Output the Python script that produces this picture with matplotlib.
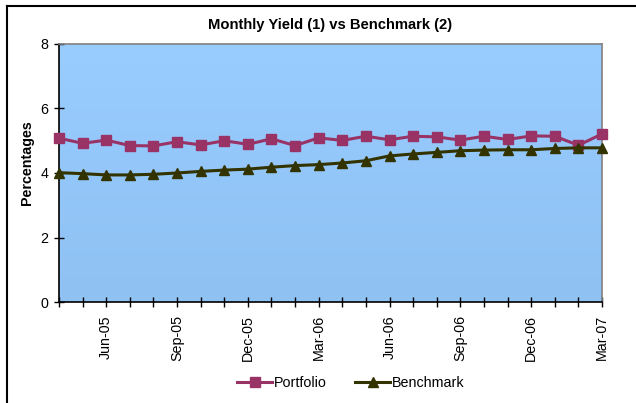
import numpy as np
import matplotlib
matplotlib.use("Agg")
import matplotlib.pyplot as plt
from matplotlib.lines import Line2D
from matplotlib.colors import LinearSegmentedColormap

plt.rcParams['font.family'] = ['Liberation Sans', 'DejaVu Sans']

months = ["Apr-05", "May-05", "Jun-05", "Jul-05", "Aug-05", "Sep-05", "Oct-05", "Nov-05",
          "Dec-05", "Jan-06", "Feb-06", "Mar-06", "Apr-06", "May-06", "Jun-06", "Jul-06",
          "Aug-06", "Sep-06", "Oct-06", "Nov-06", "Dec-06", "Jan-07", "Feb-07", "Mar-07"]
portfolio = [5.08, 4.92, 5.02, 4.85, 4.84, 4.97, 4.87, 5.00, 4.89, 5.06, 4.85, 5.09,
             5.01, 5.14, 5.03, 5.14, 5.12, 5.02, 5.14, 5.04, 5.15, 5.14, 4.86, 5.21]
benchmark = [4.01, 3.98, 3.94, 3.94, 3.96, 4.00, 4.05, 4.09, 4.12, 4.18, 4.23, 4.26,
             4.31, 4.38, 4.53, 4.59, 4.64, 4.69, 4.71, 4.72, 4.72, 4.76, 4.78, 4.78]
shown_labels = ["Jun-05", "Sep-05", "Dec-05", "Mar-06", "Jun-06", "Sep-06", "Dec-06", "Mar-07"]
y_ticks = [0, 2, 4, 6, 8]

W, H = 636, 403
fig = plt.figure(figsize=(W / 100, H / 100), dpi=100)
fig.patch.set_facecolor('white')
ax = fig.add_axes([59 / W, 1 - 302 / H, (602 - 59) / W, (302 - 44) / H])

x = np.arange(len(months))

# gradient background
cmap = LinearSegmentedColormap.from_list('bg', ['#8FC1F3', '#99CCFF'])
grad = np.linspace(0, 1, 256).reshape(-1, 1)
ax.imshow(grad, cmap=cmap, aspect='auto', origin='lower',
          extent=[0, 1, 0, 1], transform=ax.transAxes, zorder=0)

ax.plot(x, portfolio, color='#993366', lw=2.2, marker='s', markersize=6.5,
        label='Portfolio', zorder=3, clip_on=False)
ax.plot(x, benchmark, color='#333300', lw=2.2, marker='^', markersize=7.5,
        label='Benchmark', zorder=3, clip_on=False)

ax.set_xlim(0, len(months) - 1)
ax.set_ylim(0, 8)
ax.set_yticks(y_ticks)
ax.set_yticklabels([str(v) for v in y_ticks], fontsize=10.3)
ax.set_xticks(x)
ax.set_xticklabels([m if m in shown_labels else "" for m in months],
                   rotation=90, fontsize=10.3)
ax.tick_params(axis='both', direction='inout', length=7, width=1, color='black')
ax.tick_params(axis='x', pad=6)
ax.tick_params(axis='y', pad=4)

for s in ['left', 'bottom']:
    ax.spines[s].set_color('black')
    ax.spines[s].set_linewidth(1.2)
for s in ['top', 'right']:
    ax.spines[s].set_color('#808080')
    ax.spines[s].set_linewidth(1.2)

ax.set_ylabel('Percentages', fontsize=10.3, fontweight='bold')
ax.yaxis.set_label_coords(-0.046, 0.54)
ax.set_title('Monthly Yield (1) vs Benchmark (2)', fontsize=10.6, fontweight='bold', pad=11)

fig.legend(loc='center', bbox_to_anchor=(351 / W, 1 - 383 / H), ncol=2, frameon=False,
           fontsize=10.3, handlelength=2.4, columnspacing=2.0, handletextpad=0.15)

# outer chart frame
fig.add_artist(Line2D([7 / W, 1], [1 - 6 / H, 1 - 6 / H], transform=fig.transFigure,
                      color='black', lw=1.5))
fig.add_artist(Line2D([7 / W, 7 / W], [0, 1 - 6 / H], transform=fig.transFigure,
                      color='black', lw=1.5))

fig.savefig('out.png', dpi=100)
